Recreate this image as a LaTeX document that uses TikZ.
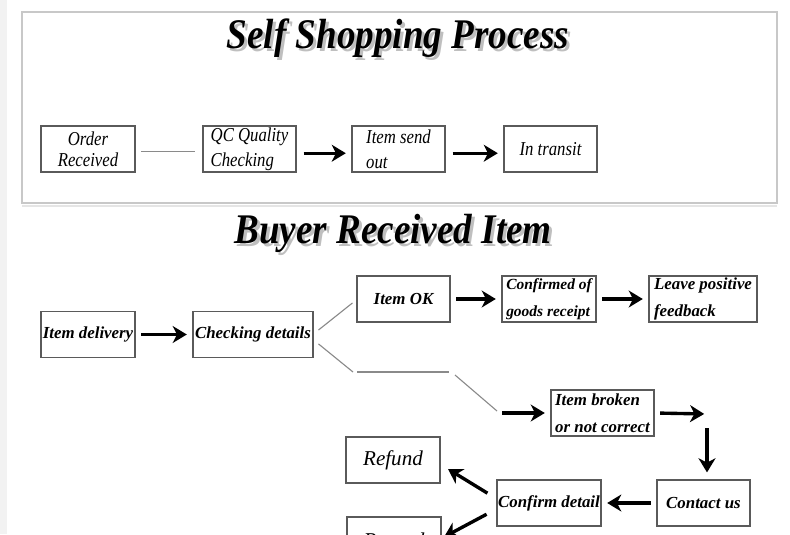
\documentclass[tikz,border=0pt]{standalone}
\usepackage{fontspec}
\setmainfont{Liberation Serif}
\newfontfamily\headfont[FakeStretch=0.88]{Liberation Serif}
\newfontfamily\narrowfont[FakeStretch=0.85]{Liberation Serif}
\usetikzlibrary{arrows.meta}
\definecolor{framegray}{HTML}{C8C8C8}
\definecolor{boxgray}{HTML}{5A5A5A}
\definecolor{linegray}{HTML}{8A8A8A}

\tikzset{
  box/.style={draw=boxgray, line width=0.8pt, minimum height=1.15cm, inner xsep=0pt, inner ysep=0pt},
  topbox/.style={box, font=\narrowfont\itshape\fontsize{14}{18}\selectfont},
  botbox/.style={box, font=\bfseries\itshape\fontsize{12}{19}\selectfont},
  bigbox/.style={box, font=\itshape\fontsize{15}{18}\selectfont},
  bigarrow/.style={-{Stealth[length=10pt,width=12pt,inset=3pt]}, line width=2.4pt, shorten <=4pt, shorten >=4pt},
  thinline/.style={linegray, line width=0.8pt},
  heading/.style={font=\headfont\bfseries\itshape\fontsize{30}{32}\selectfont}
}

\begin{document}
\begin{tikzpicture}[x=0.025cm, y=-0.025cm]
\useasboundingbox (0,0) rectangle (790,534);
\clip (0,0) rectangle (790,534);
\fill[gray!10] (0,0) rectangle (7,534);
\draw[framegray, line width=0.8pt] (22,12) rectangle (777,203);
\draw[gray!20, line width=1.5pt] (22,206) -- (777,206);

% headings
\node[heading, text=black!25] at (401,41) {Self Shopping Process};
\node[heading] (title1) at (398,38) {Self Shopping Process};
\node[heading, text=black!25] at (396,236) {Buyer Received Item};
\node[heading] (title2) at (393,233) {Buyer Received Item};

% self shopping
\node[topbox, minimum width=2.35cm, align=center] (order) at (88,149) {Order\\[-3pt]Received};
\node[topbox, minimum width=2.325cm, align=left] (qc) at (249.5,149) {QC Quality\\Checking};
\node[topbox, minimum width=2.325cm, align=left] (send) at (398.5,149) {Item send\hspace{6pt}\\out};
\node[topbox, minimum width=2.325cm, align=center] (transit) at (550.5,149) {In transit};

\draw[thinline, shorten <=4pt, shorten >=5.5pt] ([yshift=-2pt]order.east) -- ([yshift=-2pt]qc.west);
\draw[bigarrow, shorten <=5pt] ([yshift=-3pt]qc.east) -- ([yshift=-3pt]send.west);
\draw[bigarrow, shorten <=5pt] ([yshift=-3pt]send.east) -- ([yshift=-3pt]transit.west);

% buyer received
\node[botbox, minimum width=2.35cm, align=center] (delivery) at (88,334.5) {Item delivery};
\node[botbox, minimum width=3.0cm, align=center] (checking) at (253,334.5) {Checking details};
\node[botbox, minimum width=2.325cm, align=center] (itemok) at (403.5,299) {Item OK};
\node[botbox, minimum width=2.35cm, align=left, font=\bfseries\itshape\fontsize{11}{19}\selectfont] (confirmed) at (549,299) {Confirmed of\\goods receipt};
\node[botbox, minimum width=2.7cm, align=left] (feedback) at (703,299) {Leave positive\\feedback};
\node[botbox, minimum width=2.575cm, align=left] (broken) at (602.5,413) {Item broken\\or not correct};
\node[botbox, minimum width=2.325cm, align=center] (contact) at (703.5,503) {Contact us};
\node[botbox, minimum width=2.6cm, align=center] (confirm) at (549,503) {Confirm detail};
\node[bigbox, minimum width=2.35cm, align=center] (refund) at (393,460) {Refund};
\node[bigbox, minimum width=2.35cm, align=center] (resend) at (394,540) {Resend};

\coordinate (lowA) at (353,372);
\coordinate (lowB) at (357,372);
\coordinate (lowC) at (449,372);
\coordinate (lowD) at (455,375);
\coordinate (lowE) at (497,411);
\coordinate (lowF) at (502,413);
\coordinate (turn) at (707,414);
\coordinate (refundtip) at (448,469);
\coordinate (resendtip) at (444,537);

\draw[bigarrow] (delivery) -- (checking);
\draw[thinline] ([xshift=3.5pt,yshift=3.2pt]checking.east) -- ([xshift=-2.8pt,yshift=-2.8pt]itemok.west);
\draw[thinline] ([xshift=3.5pt,yshift=-6.7pt]checking.east) -- (lowA);
\draw[thinline] (lowB) -- (lowC);
\draw[thinline] (lowD) -- (lowE);
\draw[bigarrow, shorten <=0pt] (lowF) -- (broken.west);
\draw[bigarrow] (itemok) -- (confirmed);
\draw[bigarrow] (confirmed) -- (feedback);
\draw[bigarrow, shorten >=2pt] (broken.east) -- (turn);
\draw[bigarrow, shorten <=10pt, shorten >=5pt] (turn) -- (turn |- contact.north);
\draw[bigarrow] (contact) -- (confirm);
\draw[bigarrow, shorten <=0pt, shorten >=0pt] ([xshift=-6.4pt,yshift=7pt]confirm.west) -- (refundtip);
\draw[bigarrow, shorten <=0pt, shorten >=0pt] ([xshift=-7pt,yshift=-8pt]confirm.west) -- (resendtip);
\end{tikzpicture}
\end{document}
